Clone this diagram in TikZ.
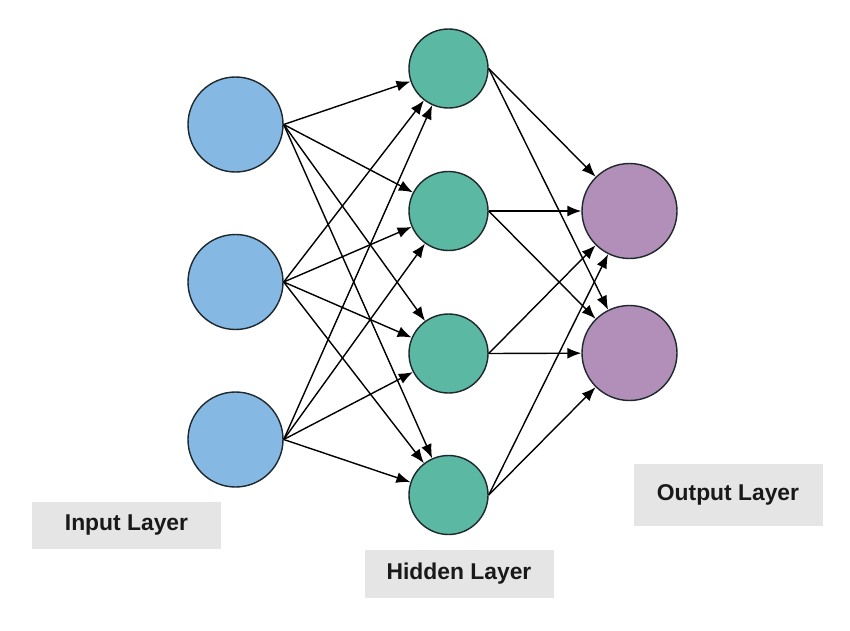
\documentclass[tikz,border=0pt]{standalone}
\usepackage{fontspec}
\setmainfont{Liberation Sans}
\usetikzlibrary{arrows.meta, automata, backgrounds, positioning}

\definecolor{inblue}{RGB}{133,185,227}
\definecolor{hidgreen}{RGB}{91,184,162}
\definecolor{outpurple}{RGB}{177,143,184}
\definecolor{boxgray}{RGB}{229,229,229}
\definecolor{rim}{RGB}{30,40,45}

\begin{document}
\begin{tikzpicture}[
        background rectangle/.style={fill=white},
        show background rectangle,
        inner frame sep=0pt,
        on grid,
        thick,
        >={Latex[length=2.8mm,width=2.2mm]}
    ]

    \tikzstyle{every state}=[
        draw=rim,
        line width=0.8pt,
        inner sep=0pt
    ]
    \tikzstyle{layer}=[
        fill=boxgray,
        minimum width=3.78cm,
        minimum height=0.94cm,
        text=black!90,
        font=\bfseries\fontsize{13}{15}\selectfont
    ]

    \useasboundingbox (0,0) rectangle (17,12.6);

    % input layer
    \node[state, fill=inblue, minimum size=1.9cm] (i1) at (4.71,10.11) {};
    \node[state, fill=inblue, minimum size=1.9cm] (i2) [below=3.15cm of i1] {};
    \node[state, fill=inblue, minimum size=1.9cm] (i3) [below=3.15cm of i2] {};

    % hidden layer
    \node[state, fill=hidgreen, minimum size=1.58cm] (h1) [above right=1.12cm and 4.26cm of i1] {};
    \node[state, fill=hidgreen, minimum size=1.58cm] (h2) [below=2.85cm of h1] {};
    \node[state, fill=hidgreen, minimum size=1.58cm] (h3) [below=2.85cm of h2] {};
    \node[state, fill=hidgreen, minimum size=1.58cm] (h4) [below=2.83cm of h3] {};

    % output layer
    \node[state, fill=outpurple, minimum size=1.9cm] (o1) [right=3.62cm of h2] {};
    \node[state, fill=outpurple, minimum size=1.9cm] (o2) [below=2.84cm of o1] {};

    % captions
    \node[layer] (inlabel) [below left=1.72cm and 2.18cm of i3] {Input Layer};
    \node[layer, minimum height=0.96cm] (hidlabel) [below right=1.57cm and 0.21cm of h4] {Hidden Layer};
    \node[layer, minimum height=1.24cm] (outlabel) [below right=2.84cm and 1.97cm of o2] {Output Layer};

    \path[->] (i1.east) edge (h1);
    \path[->] (i1.east) edge (h2);
    \path[->] (i1.east) edge (h3);
    \path[->] (i1.east) edge (h4);
    \path[->] (i2.east) edge (h1);
    \path[->] (i2.east) edge (h2);
    \path[->] (i2.east) edge (h3);
    \path[->] (i2.east) edge (h4);
    \path[->] (i3.east) edge (h1);
    \path[->] (i3.east) edge (h2);
    \path[->] (i3.east) edge (h3);
    \path[->] (i3.east) edge (h4);

    \path[->] (h1.east) edge (o1);
    \path[->] (h1.east) edge (o2);
    \path[->] (h2.east) edge (o1);
    \path[->] (h2.east) edge (o2);
    \path[->] (h3.east) edge (o1);
    \path[->] (h3.east) edge (o2);
    \path[->] (h4.east) edge (o1);
    \path[->] (h4.east) edge (o2);

\end{tikzpicture}
\end{document}
